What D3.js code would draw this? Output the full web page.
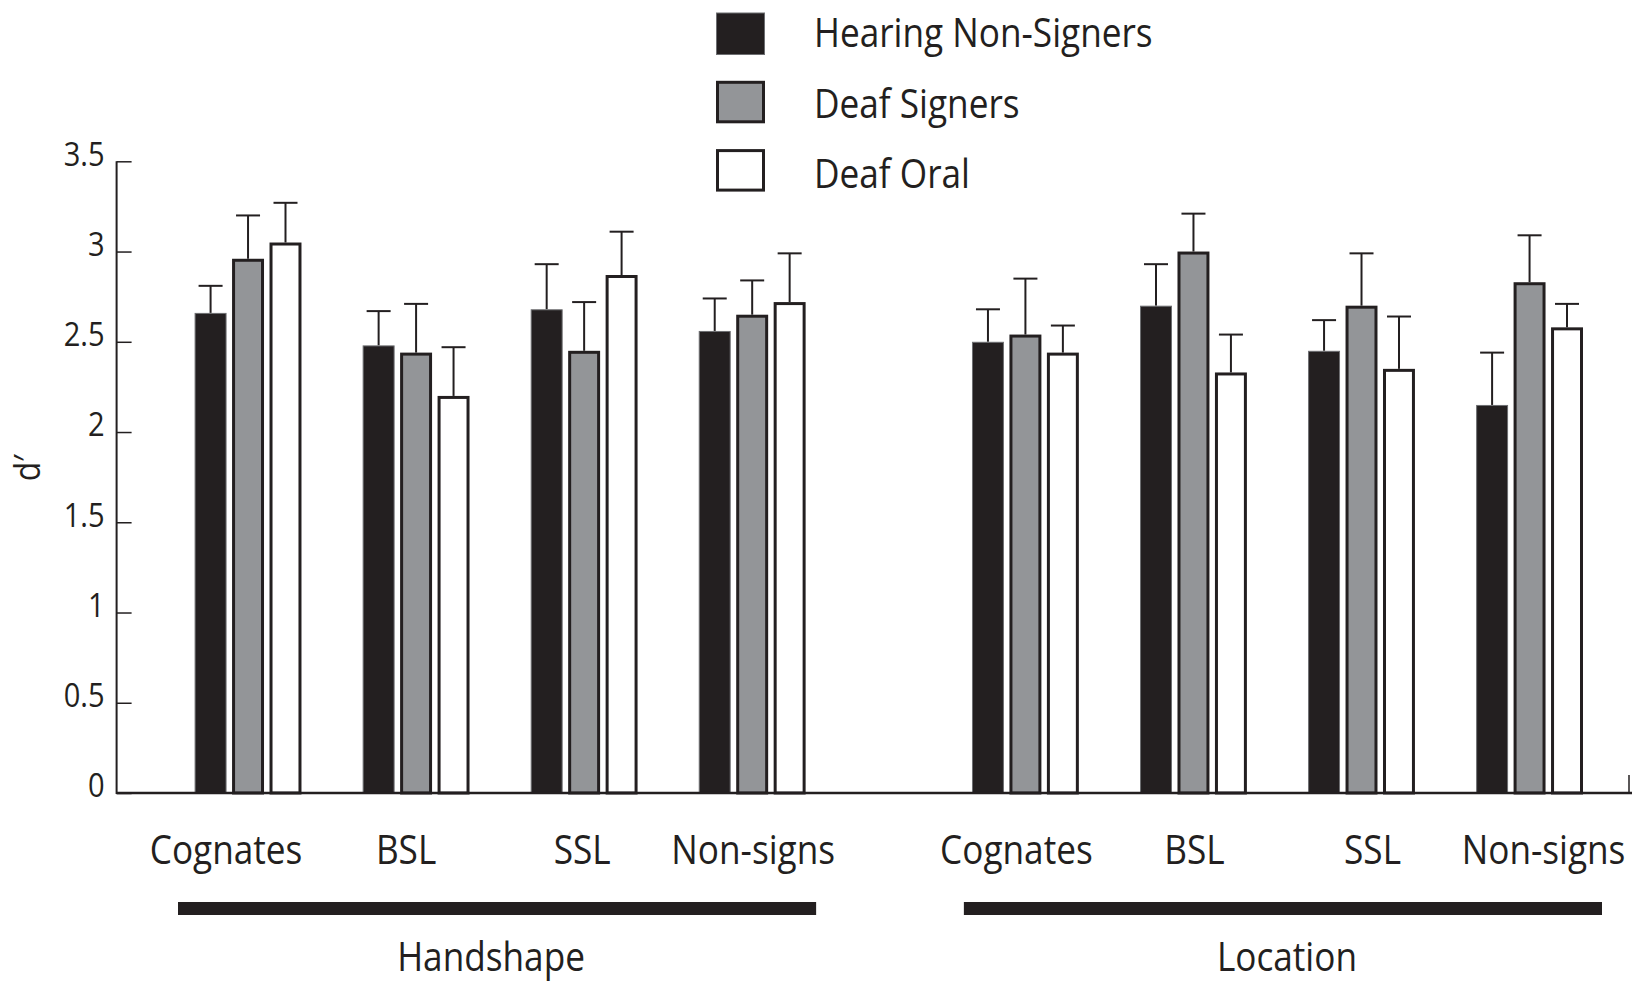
<!DOCTYPE html>
<html><head><meta charset="utf-8">
<script src="https://cdn.jsdelivr.net/npm/d3@7"></script>
<style>body{margin:0;background:#fff}svg{display:block}text{font-family:"Open Sans",sans-serif;fill:#231f20}</style>
</head><body><svg id="c" width="1632" height="983"></svg>
<script>
const dimensions = ["Handshape", "Location"];
const categories = ["Cognates", "BSL", "SSL", "Non-signs"];
const series = ["Hearing Non-Signers", "Deaf Signers", "Deaf Oral"];
// values ordered Handshape (Cognates, BSL, SSL, Non-signs), then Location (same)
const hearingNonSigners = [2.66, 2.48, 2.68, 2.56, 2.50, 2.70, 2.45, 2.15];
const hearingNonSignersErr = [0.15, 0.19, 0.25, 0.18, 0.18, 0.23, 0.17, 0.29];
const deafSigners = [2.96, 2.44, 2.45, 2.65, 2.54, 3.00, 2.70, 2.83];
const deafSignersErr = [0.24, 0.27, 0.27, 0.19, 0.31, 0.21, 0.29, 0.26];
const deafOral = [3.05, 2.20, 2.87, 2.72, 2.44, 2.33, 2.35, 2.58];
const deafOralErr = [0.22, 0.27, 0.24, 0.27, 0.15, 0.21, 0.29, 0.13];
const yTicks = [0, 0.5, 1, 1.5, 2, 2.5, 3, 3.5];
const yTickLabels = ["0", "0.5", "1", "1.5", "2", "2.5", "3", "3.5"];
const yLabel = "d\u2032";

// layout constants (label nudges as typeset in the original figure)
const catLabelNudge = [[-22, -10, -2, 1], [-9, 1, 11, 14]];
const dimLabelNudge = [-6, 4];

const seriesValues = [hearingNonSigners, deafSigners, deafOral];
const seriesErrors = [hearingNonSignersErr, deafSignersErr, deafOralErr];
const fills = ["#231f20", "#939598", "#ffffff"];
const SX = 0.88; // horizontal compression to mimic a narrower humanist face

const svg = d3.select("#c");
const y = d3.scaleLinear().domain([0, 3.5]).range([793, 161.3]);
const xPanel = d3.scaleBand().domain(dimensions).range([194.6, 1583]).paddingInner(0.214);
const xCat = d3.scaleBand().domain(categories).range([0, xPanel.bandwidth()]).paddingInner(0.364);
const xSer = d3.scaleBand().domain(series).range([0, xCat.bandwidth()]).paddingInner(0.147);
const xUnder = d3.scaleBand().domain(dimensions).range([178, 1602]).paddingInner(0.188);
const axisLeftX = 116.6;

function ctext(sel, x, yy, str, size, anchor) {
  return sel.append("text")
    .attr("transform", `translate(${x},${yy}) scale(${SX},1)`)
    .attr("text-anchor", anchor || "middle")
    .style("font-size", size + "px")
    .text(str);
}

const rows = [];
dimensions.forEach((dim, di) => categories.forEach((cat, ci) => series.forEach((s, si) => {
  const idx = di * categories.length + ci;
  rows.push({dim, cat, s, si, v: seriesValues[si][idx], e: seriesErrors[si][idx]});
})));
const bx = d => xPanel(d.dim) + xCat(d.cat) + xSer(d.s);

// error bars
const eb = svg.append("g").attr("stroke", "#231f20").attr("stroke-width", 2);
eb.selectAll("line.v").data(rows).join("line").attr("class", "v")
  .attr("x1", d => bx(d) + xSer.bandwidth() / 2).attr("x2", d => bx(d) + xSer.bandwidth() / 2)
  .attr("y1", d => y(d.v)).attr("y2", d => y(d.v + d.e));
eb.selectAll("line.c").data(rows).join("line").attr("class", "c")
  .attr("x1", d => bx(d) + xSer.bandwidth() / 2 - 12).attr("x2", d => bx(d) + xSer.bandwidth() / 2 + 12)
  .attr("y1", d => y(d.v + d.e)).attr("y2", d => y(d.v + d.e));

// bars
svg.append("g").selectAll("rect").data(rows).join("rect")
  .attr("x", d => bx(d) + (d.si === 0 ? 0.5 : 1.5))
  .attr("width", d => xSer.bandwidth() - (d.si === 0 ? 1 : 3))
  .attr("y", d => y(d.v) + (d.si === 0 ? 0.5 : 1.5))
  .attr("height", d => y(0) - y(d.v) - (d.si === 0 ? 0.5 : 1.5))
  .attr("fill", d => fills[d.si])
  .attr("stroke", d => d.si === 0 ? "#6d6e71" : "#231f20")
  .attr("stroke-width", d => d.si === 0 ? 1 : 3);

// y axis
const yAxis = d3.axisLeft(y).tickValues(yTicks).tickFormat((d, i) => yTickLabels[i]).tickSize(-15).tickPadding(12);
const gy = svg.append("g").attr("transform", `translate(${axisLeftX},0)`).call(yAxis);
gy.select(".domain").remove();
gy.selectAll(".tick line").attr("stroke", "#231f20").attr("stroke-width", 1.5);
gy.selectAll(".tick text").attr("x", -12 / SX).attr("dy", "0.12em")
  .attr("transform", `scale(${SX},1)`).style("font-size", "33px").style("font-family", "'Open Sans',sans-serif").attr("fill", "#231f20");
svg.append("line").attr("x1", axisLeftX).attr("x2", axisLeftX).attr("y1", y(3.5)).attr("y2", y(0) + 1)
  .attr("stroke", "#231f20").attr("stroke-width", 2);
// x baseline
svg.append("line").attr("x1", axisLeftX).attr("x2", 1632).attr("y1", y(0)).attr("y2", y(0))
  .attr("stroke", "#231f20").attr("stroke-width", 2.5);
svg.append("line").attr("x1", 1629).attr("x2", 1629).attr("y1", y(0) - 18).attr("y2", y(0))
  .attr("stroke", "#231f20").attr("stroke-width", 1.5);

// y label
svg.append("text").attr("transform", `translate(39.5,468) rotate(-90) scale(${SX},1)`)
  .attr("text-anchor", "middle").style("font-size", "36px").text(yLabel);

// category labels
dimensions.forEach((dim, di) => categories.forEach((cat, ci) => {
  ctext(svg, xPanel(dim) + xCat(cat) + xCat.bandwidth() / 2 + catLabelNudge[di][ci], 864, cat, 40);
}));

// dimension bars + labels
dimensions.forEach((dim, di) => {
  svg.append("rect").attr("x", xUnder(dim)).attr("width", xUnder.bandwidth())
    .attr("y", 902).attr("height", 13).attr("fill", "#231f20");
  ctext(svg, xUnder(dim) + xUnder.bandwidth() / 2 + dimLabelNudge[di], 971, dim, 40);
});

// legend
const lg = svg.append("g");
series.forEach((s, i) => {
  const top = 12.5 + i * 68.3;
  lg.append("rect").attr("x", 716 + (i ? 1.5 : 0.5)).attr("y", top + (i ? 1.5 : 0.5))
    .attr("width", 49 - (i ? 3 : 1)).attr("height", 42.5 - (i ? 3 : 1))
    .attr("fill", fills[i]).attr("stroke", i ? "#231f20" : "#6d6e71").attr("stroke-width", i ? 3 : 1);
  ctext(lg, 814, 47 + i * 70.5, s, 40, "start");
});
</script></body></html>
